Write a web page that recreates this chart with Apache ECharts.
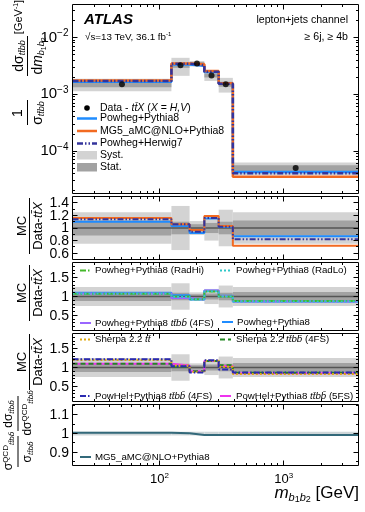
<!DOCTYPE html>
<html>
<head>
<meta charset="utf-8">
<script src="https://cdn.jsdelivr.net/npm/echarts@6.0.0/dist/echarts.min.js"></script>
<style>
  html, body { margin: 0; padding: 0; background: #fff; }
  #chart { width: 365px; height: 512px; }
</style>
</head>
<body>
<div id="chart"></div>
<script>
// m_b1b2 bin edges [GeV]
const binEdges = [20, 125, 175, 230, 300, 390, 4000];

// data - ttX, normalised cross section [GeV^-1] and relative uncertainties
const dataXsec = [1.51e-3, 3.25e-3, 3.47e-3, 2.15e-3, 1.51e-3, 5.05e-5];
const relSyst = [0.25, 0.35, 0.11, 0.20, 0.29, 0.25];
const relStat = [0.12, 0.10, 0.06, 0.08, 0.10, 0.12];

// predictions, top panel
const powPy8Xsec = [1.66e-3, 3.35e-3, 3.19e-3, 2.47e-3, 1.55e-3, 4.3e-5];
const mg5Xsec = [1.75e-3, 3.50e-3, 3.37e-3, 2.56e-3, 1.56e-3, 3.55e-5];
const powHw7Xsec = [1.72e-3, 3.45e-3, 3.26e-3, 2.49e-3, 1.54e-3, 4.1e-5];

// MC / data, panel 1
const powPy8Ratio = [1.10, 1.03, 0.92, 1.15, 1.02, 0.87];
const mg5Ratio = [1.16, 1.06, 0.97, 1.19, 1.03, 0.72];
const powHw7Ratio = [1.14, 1.06, 0.94, 1.16, 1.02, 0.82];
// panel 2
const radHiRatio = [1.07, 1.00, 0.93, 1.13, 1.00, 0.88];
const radLoRatio = [1.08, 0.99, 0.93, 1.14, 1.00, 0.87];
const pow4FSRatio = [1.08, 0.96, 0.92, 1.16, 1.01, 0.87];
// panel 3
const sherpaTtRatio = [1.20, 1.05, 0.88, 1.18, 1.02, 0.83];
const sherpaTtbbRatio = [1.10, 1.02, 0.90, 1.17, 1.06, 0.86];
const powhel4FSRatio = [1.22, 1.03, 0.87, 1.19, 0.95, 0.87];
const powhel5FSRatio = [1.10, 1.05, 0.90, 1.17, 1.04, 0.85];
// panel 4: QCD-only / full
const qcdRatio = [1.004, 1.002, 0.992, 0.992, 0.992, 0.992];
const qcdUnc = [0.01, 0.01, 0.01, 0.01, 0.01, 0.01];

// ratio axis tick labels
const ratio1Labels = [0.6, 0.8, 1, 1.2, 1.4];
const ratio23Labels = [0.5, 1, 1.5];
const ratio4Labels = [0.9, 1, 1.1];

const FONT = "'Liberation Sans', Arial, Helvetica, sans-serif";
const TTBB = 'tt\u0304bb\u0304';

const panels = [
  { top: 4.5, height: 189, log: true, yMin: 1.8e-5, yMax: 3.8e-2 },
  { top: 196.5, height: 63, yMin: 0.5, yMax: 1.5, yMajor: ratio1Labels, yMinor: [0.7, 0.9, 1.1, 1.3] },
  { top: 262.5, height: 68, yMin: 0.1, yMax: 1.9, yMajor: ratio23Labels, yMinor: [0.2, 0.3, 0.4, 0.6, 0.7, 0.8, 0.9, 1.1, 1.2, 1.3, 1.4, 1.6, 1.7, 1.8] },
  { top: 333.5, height: 68, yMin: 0.1, yMax: 1.9, yMajor: ratio23Labels, yMinor: [0.2, 0.3, 0.4, 0.6, 0.7, 0.8, 0.9, 1.1, 1.2, 1.3, 1.4, 1.6, 1.7, 1.8] },
  { top: 404.5, height: 61, yMin: 0.83, yMax: 1.155, yMajor: ratio4Labels, yMinor: [0.85, 0.95, 1.05, 1.15] }
];

function decadeTicks(lo, hi) {
  const major = [], minor = [];
  for (let e = Math.floor(Math.log10(lo)); e <= Math.ceil(Math.log10(hi)); e++) {
    for (let m = 1; m < 10; m++) {
      const v = m * Math.pow(10, e);
      if (v <= lo || v >= hi) continue;
      (m === 1 ? major : minor).push(v);
    }
  }
  return { major, minor };
}
const xTicks = decadeTicks(binEdges[0], binEdges[binEdges.length - 1]);
const mainYTicks = decadeTicks(panels[0].yMin, panels[0].yMax);
panels[0].yMajor = mainYTicks.major;
panels[0].yMinor = mainYTicks.minor;

function richSet(size) {
  return {
    n: { fontSize: size, fontFamily: FONT, verticalAlign: 'middle' },
    i: { fontSize: size, fontFamily: FONT, fontStyle: 'italic', verticalAlign: 'middle' },
    b: { fontSize: size, fontFamily: FONT, fontWeight: 'bold', fontStyle: 'italic', verticalAlign: 'middle' },
    sup: { fontSize: Math.round(size * 0.65), fontFamily: FONT, verticalAlign: 'middle', padding: [0, 0, Math.round(size * 0.55), 0] },
    sub: { fontSize: Math.round(size * 0.65), fontFamily: FONT, fontStyle: 'italic', verticalAlign: 'middle', padding: [Math.round(size * 0.5), 0, 0, 0] },
    sub2: { fontSize: Math.round(size * 0.5), fontFamily: FONT, verticalAlign: 'middle', padding: [Math.round(size * 0.85), 0, 0, 0] }
  };
}

function isPow10(v) {
  const e = Math.log10(v);
  return Math.abs(e - Math.round(e)) < 1e-6;
}
function pow10Label(v) {
  if (!isPow10(v)) return '';
  return '{n|10}{sup|' + String(Math.round(Math.log10(v))).replace('-', '\u2212') + '}';
}

function stepPoints(vals) {
  const pts = vals.map((v, i) => [binEdges[i], v]);
  pts.push([binEdges[vals.length], vals[vals.length - 1]]);
  return pts;
}

function stepLine(idx, vals, color, type, width) {
  return {
    type: 'line', xAxisIndex: idx, yAxisIndex: idx, data: stepPoints(vals),
    step: 'end', symbol: 'none', silent: true, z: 5,
    lineStyle: { color: color, width: width, type: type }
  };
}

function bandSeries(idx, centers, outer, inner, light, dark) {
  return {
    type: 'custom', xAxisIndex: idx, yAxisIndex: idx, silent: true, z: 1,
    encode: { x: [0, 1], y: 2 },
    data: centers.map((c, i) => [binEdges[i], binEdges[i + 1], c, outer[i], inner ? inner[i] : 0]),
    renderItem: (params, api) => {
      const x0 = api.value(0), x1 = api.value(1), c = api.value(2);
      const rect = (r, fill) => {
        const p0 = api.coord([x0, c * (1 + r)]);
        const p1 = api.coord([x1, c * (1 - r)]);
        return { type: 'rect', shape: { x: p0[0], y: p0[1], width: p1[0] - p0[0], height: p1[1] - p0[1] }, style: { fill: fill } };
      };
      const children = [rect(api.value(3), light)];
      if (api.value(4) > 0) children.push(rect(api.value(4), dark));
      return { type: 'group', children: children };
    }
  };
}

function unityLine(idx, color, width) {
  return {
    type: 'line', xAxisIndex: idx, yAxisIndex: idx, silent: true, symbol: 'none', z: 3,
    data: [[binEdges[0], 1], [binEdges[binEdges.length - 1], 1]],
    lineStyle: { color: color, width: width }
  };
}

// y tick labels of the ratio panels, placed through the panel's own y scale
function ratioLabelSeries(idx) {
  const p = panels[idx];
  return {
    type: 'custom', xAxisIndex: idx, yAxisIndex: idx, silent: true, z: 30, clip: false,
    data: p.yMajor.map(v => [binEdges[0], v]),
    renderItem: (params, api) => {
      const pt = api.coord([api.value(0), api.value(1)]);
      return {
        type: 'text', x: pt[0] - 3.5, y: pt[1] + 0.5,
        style: { text: String(api.value(1)), fill: '#000', font: '14px ' + FONT, align: 'right', verticalAlign: 'middle' }
      };
    }
  };
}

// tick marks on all four sides, pointing inwards, snapped to the pixel grid
function crisp(v) { return Math.round(v - 0.5) + 0.5; }
function tickSeries(idx) {
  const p = panels[idx];
  const x0 = binEdges[0], x1 = binEdges[binEdges.length - 1];
  const items = [];
  xTicks.major.forEach(v => items.push([v, p.yMin, 5, 0]));
  xTicks.minor.forEach(v => items.push([v, p.yMin, 2.5, 0]));
  p.yMajor.forEach(v => items.push([x0, v, 5, 1]));
  p.yMinor.forEach(v => items.push([x0, v, 2.5, 1]));
  return {
    type: 'custom', xAxisIndex: idx, yAxisIndex: idx, silent: true, z: 20, clip: false,
    data: items,
    renderItem: (params, api) => {
      const len = api.value(2);
      const style = { stroke: '#000', lineWidth: 1 };
      if (api.value(3) === 0) {
        const b = api.coord([api.value(0), p.yMin]);
        const t = api.coord([api.value(0), p.yMax]);
        const x = crisp(b[0]);
        return { type: 'group', children: [
          { type: 'line', shape: { x1: x, y1: b[1], x2: x, y2: b[1] - len }, style: style },
          { type: 'line', shape: { x1: x, y1: t[1], x2: x, y2: t[1] + len }, style: style }
        ] };
      }
      const l = api.coord([x0, api.value(1)]);
      const r = api.coord([x1, api.value(1)]);
      const y = crisp(l[1]);
      return { type: 'group', children: [
        { type: 'line', shape: { x1: l[0], y1: y, x2: l[0] + len, y2: y }, style: style },
        { type: 'line', shape: { x1: r[0], y1: y, x2: r[0] - len, y2: y }, style: style }
      ] };
    }
  };
}

// colours
const cPow = '#1f8cff', cMg5 = '#f26a21', cHw7 = '#34349c';
const cRadHi = '#44b82a', cRadLo = '#2ec8c8', c4FS = '#9a66ff';
const cShTt = '#e0aa10', cShTtbb = '#228822', cPh4 = '#2a2ab0', cPh5 = '#ee33ee';
const cQcd = '#33697a';
const cSyst = '#d3d3d3', cStat = '#a2a2a2';
const dashDot = [6, 2, 1.5, 2];
const dashDotDot = [6, 2, 1.5, 2, 1.5, 2];
const dotted = [2, 2];
const dashed = [5, 3];

// ---------- graphic helpers ----------
function txt(x, y, text, size, opts) {
  opts = opts || {};
  return {
    type: 'text', x: x, y: y, rotation: opts.rot || 0, z: 100, silent: true,
    style: {
      text: text, fill: '#000', font: size + 'px ' + FONT,
      align: opts.align || 'left', verticalAlign: 'middle', rich: richSet(size)
    }
  };
}
function seg(x1, y1, x2, y2, color, width, dash) {
  return { type: 'line', z: 100, silent: true, shape: { x1: x1, y1: y1, x2: x2, y2: y2 },
    style: { stroke: color, lineWidth: width, lineDash: dash || null } };
}
function box(x, y, w, h, fill) {
  return { type: 'rect', z: 100, silent: true, shape: { x: x, y: y, width: w, height: h }, style: { fill: fill } };
}
const R = Math.PI / 2;

const graphics = [
  // labels in the main panel
  txt(84, 20, '{b|ATLAS}', 15),
  txt(85, 37, '{n|\u221As=13 TeV, 36.1 fb}{sup|-1}', 9.8),
  txt(348, 20, '{n|lepton+jets channel}', 10.6, { align: 'right' }),
  txt(348, 37, '{n|\u2265 6j, \u2265 4b}', 10.6, { align: 'right' }),

  // main legend
  { type: 'circle', z: 100, silent: true, shape: { cx: 87, cy: 108, r: 2.8 }, style: { fill: '#000' } },
  txt(100, 108, '{n|Data - }{i|tt\u0304X}{n| (}{i|X}{n| = }{i|H,V}{n|)}', 10.5),
  seg(77, 118.5, 97, 118.5, cPow, 2.5),
  txt(100, 118.5, '{n|Powheg+Pythia8}', 10.5),
  seg(77, 131, 97, 131, cMg5, 2.5),
  txt(100, 131, '{n|MG5_aMC@NLO+Pythia8}', 10.5),
  seg(77, 143.5, 97, 143.5, cHw7, 2.5, dashDotDot),
  txt(100, 143.5, '{n|Powheg+Herwig7}', 10.5),
  box(77, 151, 20, 8.5, cSyst),
  txt(100, 155, '{n|Syst.}', 10.5),
  box(77, 163, 20, 8.5, cStat),
  txt(100, 167, '{n|Stat.}', 10.5),

  // panel 2 legend
  seg(80, 270.5, 91, 270.5, cRadHi, 2, dashDot),
  txt(95, 270.5, '{n|Powheg+Pythia8 (RadHi)}', 9.7),
  seg(220, 270.5, 231, 270.5, cRadLo, 2, dotted),
  txt(236, 270.5, '{n|Powheg+Pythia8 (RadLo)}', 9.7),
  seg(80, 323, 91, 323, c4FS, 2),
  txt(95, 323, '{n|Powheg+Pythia8 }{i|' + TTBB + '}{n| (4FS)}', 9.7),
  seg(222, 322, 233, 322, cPow, 2),
  txt(237, 322, '{n|Powheg+Pythia8}', 9.7),

  // panel 3 legend
  seg(80, 339.5, 91, 339.5, cShTt, 2, dotted),
  txt(95, 339.5, '{n|Sherpa 2.2 }{i|tt\u0304}', 9.7),
  seg(220, 339.5, 231, 339.5, cShTtbb, 2, dashed),
  txt(236, 339.5, '{n|Sherpa 2.2 }{i|' + TTBB + '}{n| (4FS)}', 9.7),
  seg(80, 396, 91, 396, cPh4, 2, dashDot),
  txt(95, 396, '{n|PowHel+Pythia8 }{i|' + TTBB + '}{n| (4FS)}', 9.7),
  seg(220, 396, 231, 396, cPh5, 2),
  txt(236, 396, '{n|PowHel+Pythia8 }{i|' + TTBB + '}{n| (5FS)}', 9.7),

  // panel 4 legend
  seg(80, 457, 91, 457, cQcd, 2),
  txt(95, 457, '{n|MG5_aMC@NLO+Pythia8}', 9.7),

  // main y title
  txt(19, 17, '{n|[GeV}{sup|-1}{n|]}', 11, { rot: R, align: 'center' }),
  txt(19, 56, '{n|d\u03C3}{sub|' + 'tt\u0304bb' + '}', 14, { rot: R, align: 'center' }),
  seg(27.5, 36, 27.5, 76, '#000', 1),
  txt(38, 56, '{n|d}{i|m}{sub|b}{sub2|1}{sub|b}{sub2|2}', 14, { rot: R, align: 'center' }),
  txt(18, 113, '{n|1}', 14, { rot: R, align: 'center' }),
  seg(27.5, 100, 27.5, 125, '#000', 1),
  txt(38, 113, '{n|\u03C3}{sub|' + 'tt\u0304bb' + '}', 14, { rot: R, align: 'center' }),

  // ratio y titles
  txt(22, 226, '{n|MC}', 13, { rot: R, align: 'center' }),
  seg(29.5, 198, 29.5, 254, '#000', 1),
  txt(38, 226, '{n|Data-}{i|tt\u0304X}', 13, { rot: R, align: 'center' }),
  txt(22, 293, '{n|MC}', 13, { rot: R, align: 'center' }),
  seg(29.5, 265, 29.5, 321, '#000', 1),
  txt(38, 293, '{n|Data-}{i|tt\u0304X}', 13, { rot: R, align: 'center' }),
  txt(22, 362, '{n|MC}', 13, { rot: R, align: 'center' }),
  seg(29.5, 334, 29.5, 390, '#000', 1),
  txt(38, 362, '{n|Data-}{i|tt\u0304X}', 13, { rot: R, align: 'center' }),

  // panel 4 y title
  txt(9, 414, '{n|d\u03C3}{sub|' + TTBB + '}', 12, { rot: R, align: 'center' }),
  seg(18, 396, 18, 431, '#000', 1),
  txt(28, 413, '{n|d\u03C3}{sup|QCD}{sub|' + TTBB + '}', 12, { rot: R, align: 'center' }),
  txt(9, 451, '{n|\u03C3}{sup|QCD}{sub|' + TTBB + '}', 12, { rot: R, align: 'center' }),
  seg(18, 436, 18, 467, '#000', 1),
  txt(28, 452, '{n|\u03C3}{sub|' + TTBB + '}', 12, { rot: R, align: 'center' }),

  // x title
  txt(359, 493, '{i|m}{sub|b}{sub2|1}{sub|b}{sub2|2}{n| [GeV]}', 17, { align: 'right' })
];

// ---------- chart ----------
const chart = echarts.init(document.getElementById('chart'), null, { renderer: 'canvas' });

const grid = panels.map(p => ({
  left: 72.5, right: 6.5, top: p.top, height: p.height,
  show: true, borderColor: '#000', borderWidth: 1, backgroundColor: 'transparent', z: 10
}));

const xAxis = panels.map((p, i) => ({
  type: 'log', logBase: 10, gridIndex: i,
  min: binEdges[0], max: binEdges[binEdges.length - 1],
  axisLine: { show: false }, axisTick: { show: false }, splitLine: { show: false },
  axisLabel: {
    show: i === panels.length - 1, margin: 6, color: '#000', fontSize: 13, fontFamily: FONT,
    formatter: pow10Label, rich: richSet(13)
  }
}));

const yAxis = panels.map((p, i) => {
  const ax = {
    type: p.log ? 'log' : 'value', gridIndex: i, min: p.yMin, max: p.yMax,
    axisLine: { show: false }, axisTick: { show: false }, splitLine: { show: false },
    axisLabel: { show: false }
  };
  if (p.log) {
    ax.logBase = 10;
    ax.axisLabel = {
      show: true, color: '#000', fontSize: 15, fontFamily: FONT, margin: 4,
      formatter: pow10Label, rich: richSet(15)
    };
  }
  return ax;
});

const ones = dataXsec.map(() => 1);
const series = [
  // main panel
  bandSeries(0, dataXsec, relSyst, relStat, cSyst, cStat),
  stepLine(0, powPy8Xsec, cPow, 'solid', 2.5),
  stepLine(0, mg5Xsec, cMg5, 'solid', 2.5),
  stepLine(0, powHw7Xsec, cHw7, dashDotDot, 2.5),
  {
    type: 'scatter', xAxisIndex: 0, yAxisIndex: 0, silent: true, z: 8,
    symbol: 'circle', symbolSize: 6, itemStyle: { color: '#000' },
    data: dataXsec.map((v, i) => [Math.sqrt(binEdges[i] * binEdges[i + 1]), v])
  },
  // ratio 1
  bandSeries(1, ones, relSyst, relStat, cSyst, cStat),
  unityLine(1, '#555', 1.5),
  stepLine(1, powPy8Ratio, cPow, 'solid', 2),
  stepLine(1, mg5Ratio, cMg5, 'solid', 2),
  stepLine(1, powHw7Ratio, cHw7, dashDotDot, 2),
  // ratio 2
  bandSeries(2, ones, relSyst, relStat, cSyst, cStat),
  unityLine(2, '#555', 1.5),
  stepLine(2, powPy8Ratio, cPow, 'solid', 2),
  stepLine(2, pow4FSRatio, c4FS, 'solid', 2),
  stepLine(2, radHiRatio, cRadHi, dashDot, 2),
  stepLine(2, radLoRatio, cRadLo, dotted, 2),
  // ratio 3
  bandSeries(3, ones, relSyst, relStat, cSyst, cStat),
  unityLine(3, '#555', 1.5),
  stepLine(3, powhel5FSRatio, cPh5, 'solid', 2),
  stepLine(3, sherpaTtbbRatio, cShTtbb, dashed, 2),
  stepLine(3, sherpaTtRatio, cShTt, dotted, 2),
  stepLine(3, powhel4FSRatio, cPh4, dashDot, 2),
  // ratio 4
  bandSeries(4, ones, qcdUnc, null, '#cfd6d8', cStat),
  stepLine(4, qcdRatio, cQcd, 'solid', 2)
];
panels.forEach((p, i) => {
  series.push(tickSeries(i));
  if (!p.log) series.push(ratioLabelSeries(i));
});

chart.setOption({
  animation: false,
  backgroundColor: '#fff',
  grid: grid,
  xAxis: xAxis,
  yAxis: yAxis,
  series: series,
  graphic: graphics
});
</script>
</body>
</html>
